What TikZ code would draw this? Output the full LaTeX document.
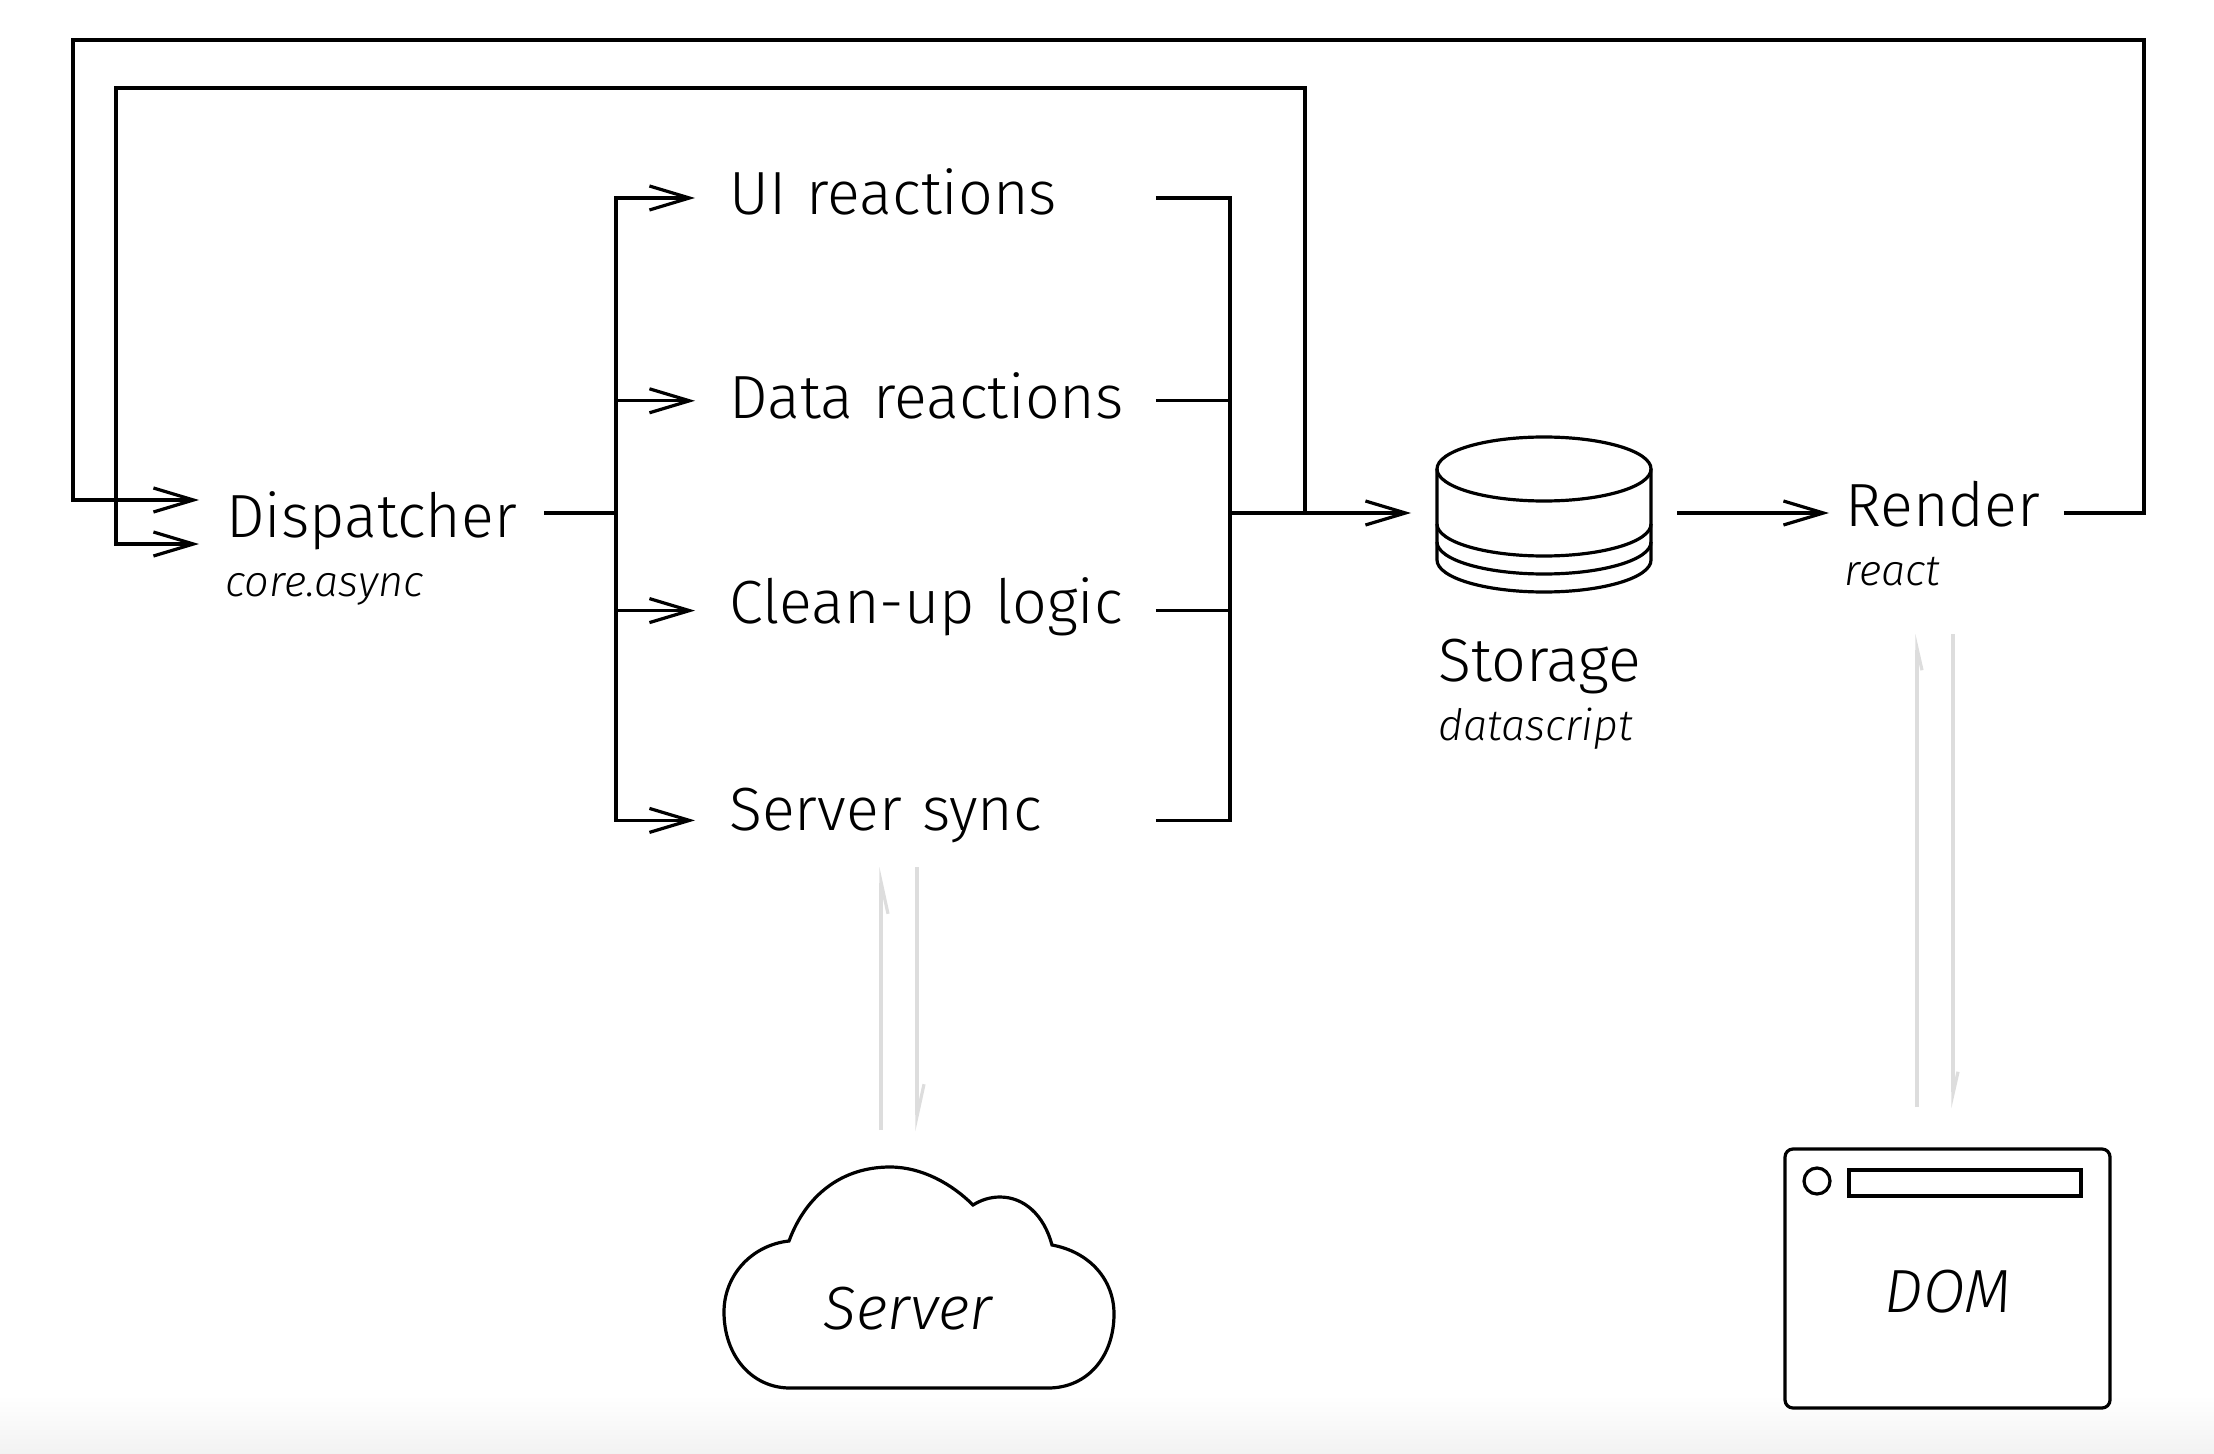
\documentclass[tikz,border=0pt]{standalone}
\usepackage{fontspec}
\setmainfont{Fira Sans Light}[ItalicFont={Fira Sans Light Italic}]
\usepackage{xcolor}
\usetikzlibrary{positioning,arrows.meta}
\definecolor{syncgray}{HTML}{DDDDDD}
\tikzset{
	wire/.style={line width=1.6pt},
	flow/.style={wire, -{Straight Barb[length=20pt,width=12pt,line width=1.6pt]}},
	sync/.style={line width=2pt, syncgray},
	title/.style={font=\fontsize{30.5}{30.5}\selectfont, inner sep=0pt},
	subtitle/.style={font=\itshape\fontsize{21.6}{21.6}\selectfont, inner sep=0pt, anchor=base west},
	reaction/.style={title, align=left, anchor=west, inner xsep=17pt, text width=196pt},
}
\begin{document}
\begin{tikzpicture}[x=0.5pt, y=-0.5pt]
	\useasboundingbox (0,0) rectangle (2214,1454);
	\shade[top color=white, bottom color=black!5] (0,1395) rectangle (2214,1454);
	% main row
	\node[title, anchor=west, inner xsep=13.5pt, text height=30pt, text depth=6pt] (dispatcher) at (199,513) {Dispatcher};
	\node[subtitle] (dispatcherLib) at (225,596) {core.async};
	\node[minimum width=107pt, minimum height=78pt, inner sep=0pt, outer xsep=13pt] (storage) at (1544,513) {};
	\node[title, anchor=base west] (storageLabel) at (1438,681) {Storage};
	\node[subtitle] (storageLib) at (1438,740) {datascript};
	\node[title, anchor=west, align=left, inner xsep=8pt, text width=101pt, text height=23pt, text depth=10pt] (render) at (1829,513) {Render};
	\node[subtitle] (renderLib) at (1844,585) {react};
	% reactions
	\node[reaction, text height=24pt, text depth=7pt] (uiReactions) at (695,198) {\mbox{UI reactions}};
	\node[reaction, text height=24.5pt, text depth=6.5pt, below=70pt of uiReactions] (dataReactions) {\mbox{Data reactions}};
	\node[reaction, text height=22pt, text depth=9pt, below=73.5pt of dataReactions] (cleanupLogic) {\mbox{Clean-up logic}};
	\node[reaction, text height=20.5pt, text depth=10.5pt, below=73.5pt of cleanupLogic] (serverSync) {\mbox{Server sync}};
	\coordinate (busIn) at (616,513);
	\coordinate (busOut) at (1230,513);
	\coordinate (feedback) at (1305,513);
	\coordinate (inA) at (199,500);
	\coordinate (inB) at (199,544);
	\coordinate (innerCorner) at (116,88);
	\coordinate (outerRight) at (2144,40);
	\coordinate (outerLeft) at (73,40);
	\draw[wire] (dispatcher.east) -- (busIn);
	\foreach \reaction in {uiReactions,dataReactions,cleanupLogic,serverSync} {
		\draw[flow] (busIn) |- (\reaction.west);
		\draw[wire] (\reaction.east) -| (busOut);
	}
	\draw[flow] (busOut) -- (storage.west);
	\draw[flow] (storage.east) -- (render.west);
	\draw[flow] (feedback) |- (innerCorner) |- (inB);
	\draw[flow] (render.east) -| (outerRight) -- (outerLeft) |- (inA);
	% storage drum
	\draw[wire] (1437,469) -- (1437,560) arc[start angle=180, end angle=0, x radius=107, y radius=32] -- (1651,469);
	\draw[wire] (1544,469) ellipse[x radius=107, y radius=32];
	\draw[wire] (1437,524) arc[start angle=180, end angle=0, x radius=107, y radius=32];
	\draw[wire] (1437,542) arc[start angle=180, end angle=0, x radius=107, y radius=32];
	% server
	\draw[wire] (790,1388) -- (1048,1388)
		.. controls (1088,1388) and (1114,1356) .. (1114,1314)
		.. controls (1114,1280) and (1090,1252) .. (1052,1245)
		.. controls (1044,1215) and (1024,1197) .. (1000,1197)
		.. controls (990,1197) and (981,1200) .. (973,1205)
		.. controls (952,1184) and (922,1167) .. (890,1167)
		.. controls (842,1167) and (806,1195) .. (789,1241)
		.. controls (752,1245) and (724,1275) .. (724,1312)
		.. controls (724,1356) and (752,1388) .. (790,1388) -- cycle;
	\node[title, font=\itshape\fontsize{30.5}{30.5}\selectfont, anchor=base west] (server) at (823,1329) {Server};
	\coordinate (serverUpStart) at (881,1130);
	\coordinate (serverUpEnd) at (881,867);
	\coordinate (serverDownStart) at (917,867);
	\coordinate (serverDownEnd) at (917,1131);
	\draw[sync, -{Straight Barb[harpoon, swap, length=16pt, width=7pt, line width=1.6pt]}] (serverUpStart) -- (serverUpEnd);
	\draw[sync, -{Straight Barb[harpoon, length=16pt, width=7pt, line width=1.6pt]}] (serverDownStart) -- (serverDownEnd);
	% dom
	\node[draw, line width=1.6pt, fill=white, rounded corners=4pt, minimum width=162.5pt, minimum height=129.5pt, inner sep=0pt] (domBox) at (1947.5,1278.5) {};
	\node[draw, line width=1.6pt, circle, minimum size=13pt, inner sep=0pt] (domDot) at (1817,1181) {};
	\node[draw, line width=1.6pt, minimum width=116pt, minimum height=13pt, inner sep=0pt] (domBar) at (1965,1183) {};
	\node[title, font=\itshape\fontsize{30.5}{30.5}\selectfont, anchor=base] (dom) at (1948,1312) {DOM};
	\coordinate (domUpStart) at (1917,1107);
	\coordinate (domUpEnd) at (1917,634);
	\coordinate (domDownStart) at (1953,634);
	\coordinate (domDownEnd) at (1953,1108);
	\draw[sync, -{Straight Barb[harpoon, swap, length=11pt, width=5pt, line width=1.6pt]}] (domUpStart) -- (domUpEnd);
	\draw[sync, -{Straight Barb[harpoon, length=11pt, width=5pt, line width=1.6pt]}] (domDownStart) -- (domDownEnd);
\end{tikzpicture}
\end{document}
